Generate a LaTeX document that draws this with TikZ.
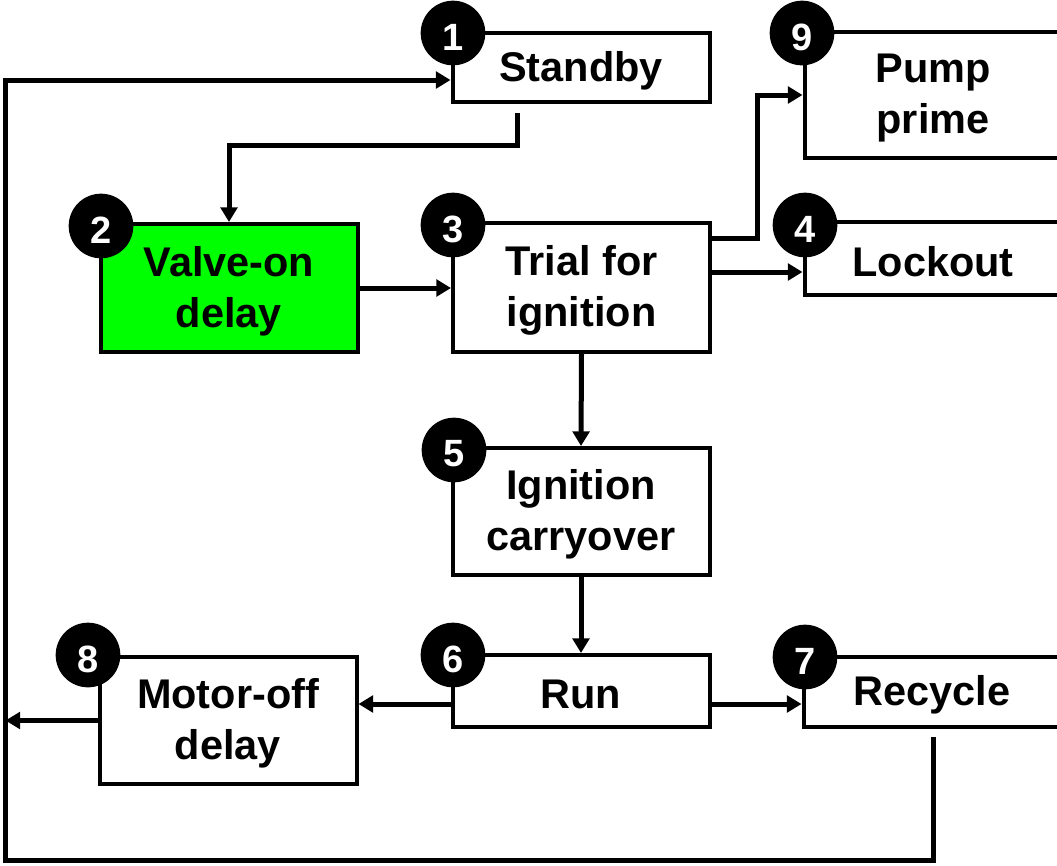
\documentclass[tikz,border=0pt]{standalone}
\usepackage{fontspec}
\setmainfont{Liberation Sans}
\usetikzlibrary{arrows.meta}
\definecolor{vgreen}{RGB}{0,255,0}
\begin{document}
\begin{tikzpicture}[x=0.75pt,y=-0.75pt,
  box/.style={draw, line width=3pt, fill=white, inner sep=0pt, minimum width=192.75pt},
  txt/.style={inner sep=0pt, align=center, font=\fontsize{31.1}{38.25}\selectfont\bfseries},
  num/.style={circle, fill=black, minimum size=48.5pt, inner sep=0pt},
  digit/.style={inner sep=0pt, text=white, font=\fontsize{28.5}{28.5}\selectfont\bfseries},
  conn/.style={line width=3.75pt},
  arr/.style={conn, -{Triangle[length=11pt,width=12.5pt]}},
]
\useasboundingbox (0,0) rectangle (1057,865);
\clip (0,0) rectangle (1057,865);
% boxes
\node[box, minimum height=51.75pt] (s1) at (581,67.5) {};
\node[box, fill=vgreen, minimum height=96pt] (s2) at (229,288) {};
\node[box, minimum height=96.75pt] (s3) at (581.5,287.5) {};
\node[box, minimum height=94.5pt] (s9) at (933,95) {};
\node[box, minimum height=54.75pt] (s4) at (933,258.5) {};
\node[box, minimum height=95.25pt] (s5) at (581,511.5) {};
\node[box, minimum height=54pt] (s6) at (581,691) {};
\node[box, minimum height=52.5pt] (s7) at (932,692) {};
\node[box, minimum height=95.25pt] (s8) at (228,720.5) {};
% texts
\node[txt] (t1) at ([yshift=-2.25pt]s1.center) {Standby};
\node[txt] (t2) at ([yshift=-2.25pt]s2.center) {Valve-on\\delay};
\node[txt] (t3) at ([yshift=-2.25pt]s3.center) {Trial for\\ignition};
\node[txt] (t9) at ([yshift=-2.25pt]s9.center) {Pump\\prime};
\node[txt] (t4) at ([yshift=-2.25pt]s4.center) {Lockout};
\node[txt] (t5) at ([yshift=-2.25pt]s5.center) {Ignition\\carryover};
\node[txt] (t6) at ([yshift=-2.25pt]s6.center) {Run};
\node[txt] (t7) at ([yshift=-2.25pt]s7.center) {Recycle};
\node[txt] (t8) at ([yshift=-2.25pt]s8.center) {Motor-off\\delay};
% helper coordinates
\coordinate (y238) at (0,238);
\coordinate (y272) at (0,272);
\coordinate (y704) at (0,704);
\coordinate (y80) at (0,80);
\coordinate (lx) at (5.5,0);
\coordinate (a1) at (517,113);
\coordinate (a7) at (933,737);
% connectors
\draw[arr] (a1) -- (517,145) -| (s2.north);
\draw[arr] (s2.east) -- (s3.west |- s2.east);
\draw[arr] (s3.east |- y238) -- (757,238) |- (s9.west);
\draw[arr] (s3.east |- y272) -- (s4.west |- y272);
\draw[arr] (s3.south) -- (s5.north);
\draw[arr] (s5.south) -- (s6.north);
\draw[arr] (s6.west |- y704) -- (s8.east |- y704);
\draw[arr] (s6.east |- y704) -- (s7.west |- y704);
\draw[arr] (s8.west) -- (lx |- s8.west);
\draw[arr] (a7) -- (933,860) -| (lx |- y80) -- (s1.west |- y80);
% numbers
\foreach \n/\px/\py in {1/453/33, 2/101/226, 3/453/225, 9/802/33, 4/805/225, 5/454/450, 6/453/655, 7/805/657, 8/88/655} {
  \node[num] (n\n) at (\px,\py) {};
  \node[digit] (d\n) at ([yshift=-3pt]n\n.center) {\n};
}
\end{tikzpicture}
\end{document}
